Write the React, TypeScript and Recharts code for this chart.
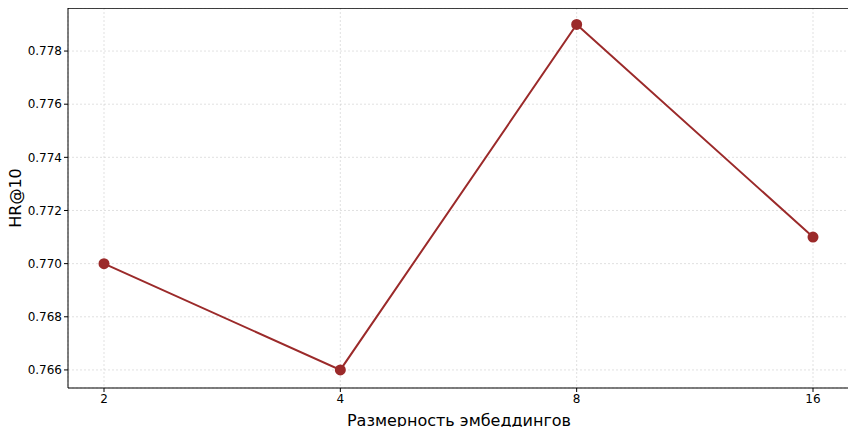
import { LineChart, Line, XAxis, YAxis, CartesianGrid, ReferenceLine } from "recharts";

const dims = ["2", "4", "8", "16"];
const hr10 = [0.77, 0.766, 0.779, 0.771];
const yTicks = [0.766, 0.768, 0.77, 0.772, 0.774, 0.776, 0.778];
const yMin = 0.76532;
const yMax = 0.77962;

const data = dims.map((d, i) => ({ dim: d, hr: hr10[i] }));

export default function App() {
  return (
    <div style={{ margin: -8, background: "#fff", fontFamily: "DejaVu Sans, sans-serif" }}>
      <LineChart width={856} height={435} data={data} margin={{ top: 7, right: 5, bottom: 17, left: 0 }}>
        <CartesianGrid stroke="#ccc" strokeDasharray="2 2" strokeWidth={0.6} />
        <XAxis
          dataKey="dim"
          height={30}
          padding={{ left: 36, right: 37 }}
          tick={{ fontSize: 12, fill: "#000" }}
          tickLine={{ stroke: "#000" }}
          tickSize={4}
          axisLine={{ stroke: "#000" }}
          label={{ value: "Размерность эмбеддингов", position: "insideBottom", offset: -8, fontSize: 16, fill: "#000" }}
        />
        <XAxis xAxisId="top" dataKey="dim" orientation="top" height={1} tick={false} tickLine={false} axisLine={{ stroke: "#000" }} />
        <YAxis
          domain={[yMin, yMax]}
          ticks={yTicks}
          width={68}
          tickFormatter={(v: number) => v.toFixed(3)}
          tick={{ fontSize: 12, fill: "#000" }}
          tickLine={{ stroke: "#000" }}
          tickSize={4}
          axisLine={{ stroke: "#000" }}
          label={{ value: "HR@10", angle: -90, position: "center", dx: -19, fontSize: 16, fill: "#000" }}
        />
        <YAxis yAxisId="right" orientation="right" width={1} domain={[yMin, yMax]} tick={false} tickLine={false} axisLine={{ stroke: "#000" }} />
        <ReferenceLine y={yMax} stroke="#000" />
        <Line
          dataKey="hr"
          stroke="#9b2a2a"
          strokeWidth={2}
          dot={{ r: 4.5, fill: "#9b2a2a", stroke: "#9b2a2a" }}
          isAnimationActive={false}
        />
      </LineChart>
    </div>
  );
}
